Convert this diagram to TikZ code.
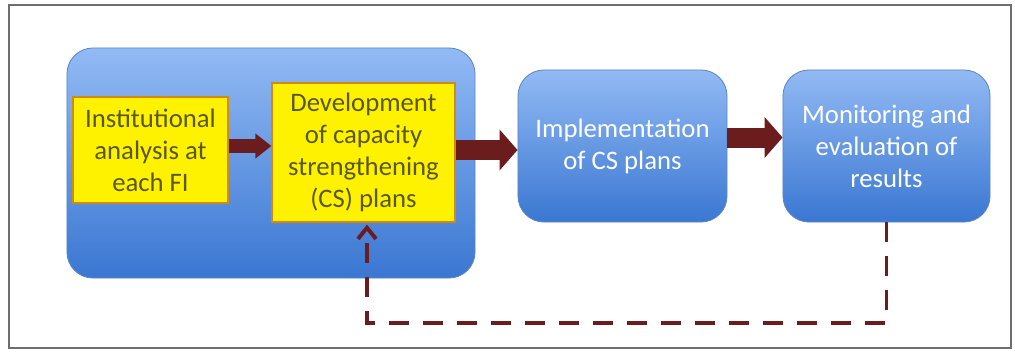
\documentclass[tikz,border=0pt]{standalone}
\usepackage{fontspec}
\setmainfont{Carlito}
\usetikzlibrary{arrows.meta,positioning}

\definecolor{boxtop}{HTML}{92BAF4}
\definecolor{boxbot}{HTML}{3A77D2}
\definecolor{boxline}{HTML}{5C86C4}
\definecolor{arrowred}{HTML}{6B1C1C}
\definecolor{textolive}{HTML}{5A5810}
\definecolor{yellowline}{HTML}{D08A10}
\definecolor{framegray}{HTML}{6E6E6E}

\begin{document}
\begin{tikzpicture}[x=0.025cm, y=-0.025cm,
  bluebox/.style={draw=boxline, line width=0.6pt, rounded corners=0.65cm,
    top color=boxtop, bottom color=boxbot},
  stepbox/.style={bluebox, text=white, align=center, inner sep=0pt,
    font=\fontsize{19}{22.7}\selectfont, minimum height=3.8cm},
  yellowbox/.style={draw=yellowline, fill=yellow, line width=0.8pt, inner sep=0pt,
    text=textolive, align=center, font=\fontsize{19}{22.7}\selectfont},
  flow/.style={arrowred, line width=0.5cm, -{Triangle[length=0.45cm, width=1cm]}},
  feedback/.style={arrowred, line width=2.8pt, dash pattern=on 0.5cm off 0.35cm,
    -{Straight Barb[length=0.28cm, width=0.45cm]}}]

\useasboundingbox (0,0) rectangle (1015,351);

% Outer frame
\draw[framegray, line width=0.05cm] (9,5) rectangle (1011,348);

% Boxes
\node[bluebox, minimum width=10.2cm, minimum height=5.75cm] (big) at (271,163) {};
\node[yellowbox, minimum width=3.875cm, minimum height=2.65cm] (fi) at (150.5,150)
  {Institutional\\analysis at\\each FI};
\node[yellowbox, minimum width=4.575cm, minimum height=3.475cm] (csplan) at (363.5,152.5)
  {Development\\of capacity\\strengthening\\(CS) plans};
\node[stepbox, minimum width=5.225cm] (impl) at (622.5,146)
  {Implementation\\of CS plans};
\node[stepbox, minimum width=5.175cm] (monit) at (886.5,146)
  {Monitoring and\\evaluation of\\results};

% Arrows between steps
\coordinate (a1) at (fi.east |- 0,146);
\coordinate (a2) at (csplan.east |- 0,150);
\coordinate (a3) at (impl.east |- 0,137.5);
\draw[flow, line width=0.35cm, -{Triangle[length=0.4cm, width=0.6cm]}] (a1) -- (a1 -| csplan.west);
\draw[flow] (a2) -- (a2 -| impl.west);
\draw[flow] (a3) -- (a3 -| monit.west);

% Feedback loop
\coordinate (fb) at (367,323);
\draw[feedback] (monit.south) |- (fb) -- ([yshift=-0.05cm]fb |- csplan.south);

\end{tikzpicture}
\end{document}
